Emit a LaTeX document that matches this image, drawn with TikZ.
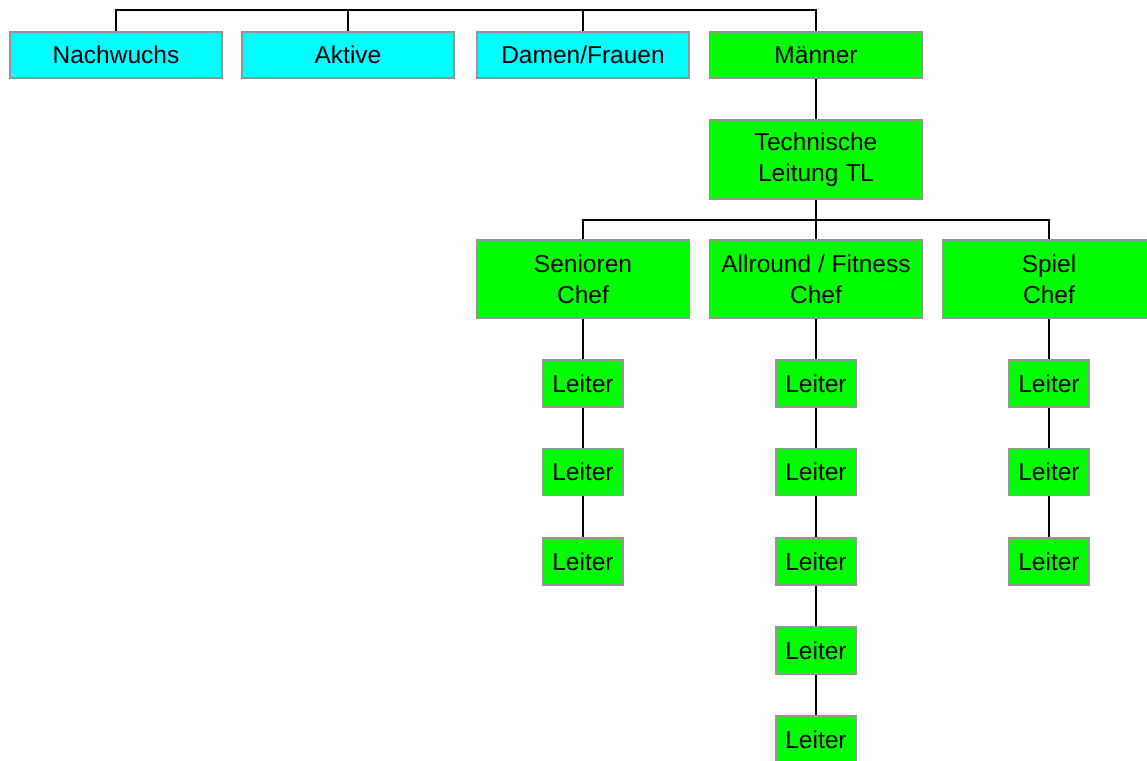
\documentclass[tikz,border=0pt]{standalone}
\usepackage{fontspec}
\setmainfont{Liberation Sans}
\definecolor{unitcyan}{RGB}{0,255,255}
\definecolor{unitgreen}{RGB}{0,255,0}
\definecolor{frame}{RGB}{150,150,150}
\begin{document}
\begin{tikzpicture}[x=1pt,y=-1pt,
  box/.style={draw=frame, line width=1.6pt, inner sep=0pt, align=center,
    font=\fontsize{24.5}{31}\selectfont},
  cyanbox/.style={box, fill=unitcyan, minimum width=212pt, minimum height=46pt},
  greenbox/.style={box, fill=unitgreen, minimum width=213pt},
  leiterbox/.style={box, fill=unitgreen, minimum width=80pt, minimum height=47pt},
  link/.style={draw=black, line width=1.4pt}]
\useasboundingbox (0,0) rectangle (1147,760);

% top row
\node[cyanbox] (nach) at (116,55) {Nachwuchs};
\node[cyanbox] (akt) at (348,55) {Aktive};
\node[cyanbox] (dam) at (583,55) {Damen/Frauen};
\node[greenbox, minimum height=46pt] (maen) at (816,55) {M\"anner};
\coordinate (topL) at (116,10);
\coordinate (topR) at (816,10);
\draw[link] (nach.north) -- (topL) -- (topR) -- (maen.north);
\draw[link] (akt.north) -- (akt.north |- topL);
\draw[link] (dam.north) -- (dam.north |- topL);

% technical lead
\node[greenbox, minimum height=79pt] (tl) at (816,159.5) {Technische\\Leitung TL};
\draw[link] (maen) -- (tl);

% chiefs
\node[greenbox, minimum height=78pt] (sen) at (583,279) {Senioren\\Chef};
\node[greenbox, minimum height=78pt] (all) at (816,279) {Allround / Fitness\\Chef};
\node[greenbox, minimum height=78pt] (spi) at (1049,279) {Spiel\\Chef};
\coordinate (bar) at (816,220);
\draw[link] (tl.south) -- (bar);
\draw[link] (sen.north) -- (sen.north |- bar) -- (spi.north |- bar) -- (spi.north);
\draw[link] (bar) -- (all.north);

% leaders: Senioren
\node[leiterbox] (s1) at (583,383.5) {Leiter};
\node[leiterbox] (s2) at (583,472) {Leiter};
\node[leiterbox] (s3) at (583,561.5) {Leiter};
\draw[link] (sen) -- (s1);
\draw[link] (s1) -- (s2);
\draw[link] (s2) -- (s3);

% leaders: Allround / Fitness
\node[leiterbox] (a1) at (816,383.5) {Leiter};
\node[leiterbox] (a2) at (816,472) {Leiter};
\node[leiterbox] (a3) at (816,561.5) {Leiter};
\node[leiterbox] (a4) at (816,650.5) {Leiter};
\node[leiterbox] (a5) at (816,739.5) {Leiter};
\draw[link] (all) -- (a1);
\draw[link] (a1) -- (a2);
\draw[link] (a2) -- (a3);
\draw[link] (a3) -- (a4);
\draw[link] (a4) -- (a5);

% leaders: Spiel
\node[leiterbox] (p1) at (1049,383.5) {Leiter};
\node[leiterbox] (p2) at (1049,472) {Leiter};
\node[leiterbox] (p3) at (1049,561.5) {Leiter};
\draw[link] (spi) -- (p1);
\draw[link] (p1) -- (p2);
\draw[link] (p2) -- (p3);
\end{tikzpicture}
\end{document}
